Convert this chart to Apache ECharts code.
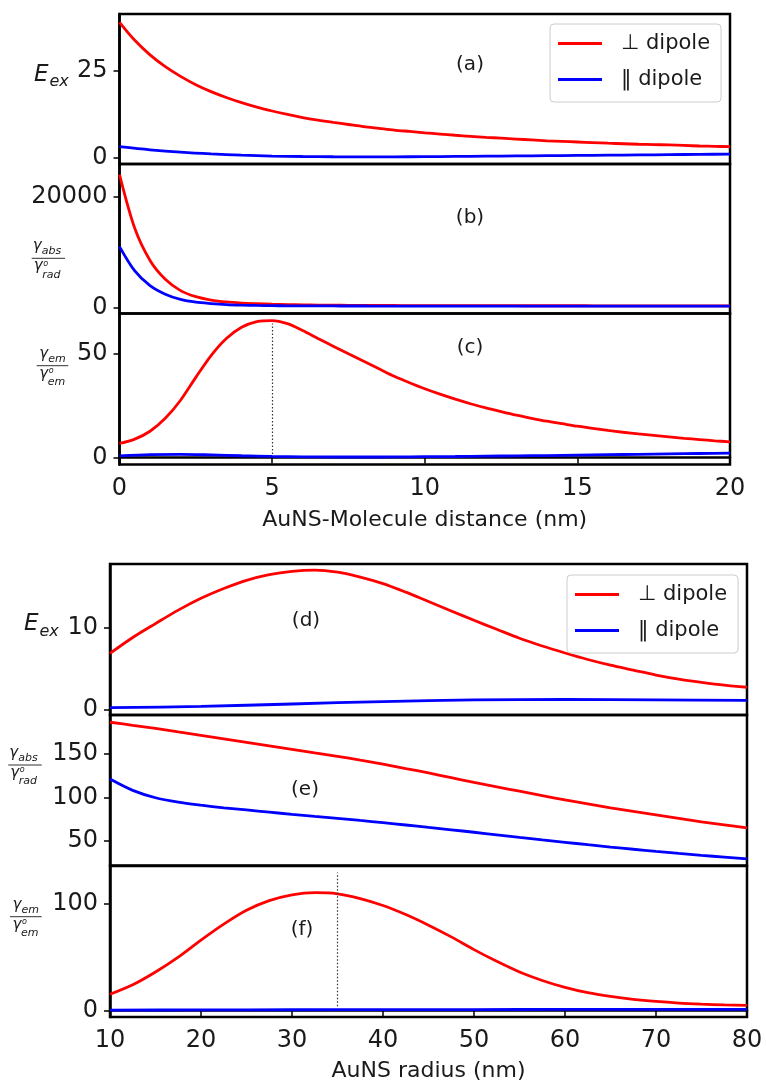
<!DOCTYPE html>
<html>
<head>
<meta charset="utf-8">
<script src="https://cdn.jsdelivr.net/npm/echarts@6/dist/echarts.min.js"></script>
<style>
  html, body { margin: 0; padding: 0; background: #fff; }
  #chart { width: 766px; height: 1081px; }
</style>
</head>
<body>
<div id="chart"></div>
<script>
// ---- Series names ----
const perpName = '\u22A5 dipole';
const paraName = '\u2016 dipole';

// ---- Top figure: quantities vs AuNS-molecule distance (nm), 0.5 nm steps ----
const dist = [0, 0.5, 1, 1.5, 2, 2.5, 3, 3.5, 4, 4.5, 5, 5.5, 6, 6.5, 7, 7.5, 8, 8.5, 9, 9.5, 10,
              10.5, 11, 11.5, 12, 12.5, 13, 13.5, 14, 14.5, 15, 15.5, 16, 16.5, 17, 17.5, 18, 18.5, 19, 19.5, 20];

// (a) excitation enhancement
const eexPerpA = [39.0, 33.8, 29.6, 26.2, 23.4, 21.0, 19.0, 17.3, 15.8, 14.5, 13.4, 12.4, 11.5, 10.75, 10.1, 9.5, 8.9, 8.4, 7.9, 7.5, 7.1,
                  6.75, 6.4, 6.1, 5.8, 5.55, 5.3, 5.05, 4.8, 4.62, 4.45, 4.27, 4.1, 3.95, 3.8, 3.7, 3.6, 3.45, 3.3, 3.2, 3.1];
const distAPara = [0, 1, 2, 3, 4, 5, 6, 7, 8, 9, 10, 11, 12, 13, 14, 15, 16, 17, 18, 19, 20];
const eexParaA = [3.1, 2.2, 1.5, 1.0, 0.65, 0.4, 0.27, 0.2, 0.18, 0.18, 0.22, 0.28, 0.35, 0.42, 0.5, 0.58, 0.65, 0.72, 0.8, 0.88, 0.95];
const ticksA = [0, 25];

// (b) absorption rate / radiative rate
const absPerpB = [24000, 14300, 8500, 5100, 3050, 1950, 1350, 1000, 800, 690, 600, 535, 480, 445, 420, 398, 380, 368, 357, 348, 340,
                  336, 332, 329, 326, 323, 320, 318, 316, 314, 312, 310, 309, 308, 307, 306, 305, 304, 303, 302, 300];
const absParaB = [11000, 6600, 3950, 2400, 1450, 950, 700, 520, 420, 365, 330, 305, 290, 280, 275, 270, 265,
                  263, 262, 261, 260, 259.5, 259, 258.5, 258, 257.5, 257, 256.5, 256, 256, 255.5, 255.5, 255, 255, 255, 255, 255, 255, 255, 255, 255];
const ticksB = [0, 20000];

// (c) emission enhancement
const emPerpC = [6.7, 8.8, 12.6, 18.8, 27.5, 38.5, 49, 57.2, 62.6, 65.3, 65.8, 64.3, 61, 57.2, 53.5, 49.8, 46.2, 42.6, 39, 35.9, 33,
                 30.4, 28, 25.8, 23.8, 22, 20.3, 18.8, 17.4, 16.2, 15, 14, 13, 12.1, 11.3, 10.6, 9.9, 9.2, 8.6, 8.0, 7.5];
const distCPara = [0, 1, 2, 3, 4, 5, 6, 7, 8, 9, 10, 11, 12, 13, 14, 15, 16, 17, 18, 19, 20];
const emParaC = [0.7, 1.3, 1.5, 1.2, 0.8, 0.5, 0.3, 0.2, 0.2, 0.25, 0.35, 0.45, 0.6, 0.75, 0.9, 1.1, 1.3, 1.5, 1.7, 1.9, 2.1];
const ticksC = [0, 50];
const peakDistance = 5;
const peakSpanC = [1.6, 64.4];

// ---- Bottom figure: quantities vs AuNS radius (nm), 2.5 nm steps ----
const radius = [10, 12.5, 15, 17.5, 20, 22.5, 25, 27.5, 30, 32.5, 35, 37.5, 40, 42.5, 45, 47.5, 50, 52.5, 55, 57.5, 60, 62.5, 65, 67.5, 70, 72.5, 75, 77.5, 80];
const radiusCoarse = [10, 20, 30, 40, 50, 60, 70, 80];

// (d) excitation enhancement
const eexPerpD = [6.85, 8.8, 10.5, 12.15, 13.6, 14.8, 15.8, 16.5, 16.9, 17.05, 16.8, 16.2, 15.4, 14.35, 13.2, 12.05, 10.9, 9.8, 8.7, 7.75, 6.9, 6.1, 5.4, 4.8, 4.2, 3.7, 3.3, 2.95, 2.7];
const eexParaD = [0.2, 0.35, 0.65, 0.95, 1.15, 1.2, 1.15, 1.1];
const ticksD = [0, 10];

// (e) absorption rate / radiative rate
const absPerpE = [186, 182.5, 179, 175, 171, 167, 163, 159, 155, 151, 147, 142.5, 138, 133, 128, 122.5, 117, 112, 107, 102, 97, 92.5, 88, 84, 80, 76, 72, 68.5, 65];
const absParaE = [121, 108, 99.5, 94.5, 91, 88, 85.5, 83, 80.5, 78.2, 76, 73.5, 71, 68.3, 65.5, 62.8, 60, 57, 54, 51.2, 48.5, 45.7, 43, 40.5, 38, 35.7, 33.5, 31.5, 29.6];
const ticksE = [50, 100, 150];

// (f) emission enhancement
const emPerpF = [15.1, 24, 36, 50, 66, 81, 94, 103, 108.5, 110.5, 109.5, 105, 98.5, 90, 80, 69, 57, 46, 36, 28, 21.5, 16.5, 13, 10.3, 8.3, 6.8, 5.8, 5.1, 4.6];
const emParaF = [0.2, 0.35, 0.5, 0.6, 0.7, 0.8, 0.85, 0.9];
const ticksF = [0, 100];
const peakRadius = 35;
const peakSpanF = [3.8, 129.6];

// ---- Styling ----
const FONT = 'DejaVu Sans';
const INK = '#1a1a1a';
const RED = '#ff0000';
const BLUE = '#0000ff';
const LINE_W = 2.8;

const zip = (xs, ys) => xs.map((x, i) => [x, ys[i]]);
const plain = v => String(v);

const grids = [
  { left: 119.5, top: 14,    width: 610.5, height: 150 },
  { left: 119.5, top: 164,   width: 610.5, height: 149.5 },
  { left: 119.5, top: 313.5, width: 610.5, height: 151 },
  { left: 110,   top: 564,   width: 637,   height: 151 },
  { left: 110,   top: 715,   width: 637,   height: 150.5 },
  { left: 110,   top: 866,   width: 637,   height: 151 }
].map(g => Object.assign({ show: true, borderColor: '#000', borderWidth: 2.5, containLabel: false, outerBoundsMode: 'none' }, g));

function xAxisFor(i, min, max, interval, showLabels, name, nameGap) {
  return {
    gridIndex: i, type: 'value', min: min, max: max, interval: interval,
    axisLine: { show: showLabels, lineStyle: { color: '#000', width: 2.5 } },
    axisTick: { show: showLabels, length: 6, lineStyle: { color: '#000', width: 1.5 } },
    axisLabel: { show: showLabels, fontSize: 24, fontFamily: FONT, color: INK, margin: 12, formatter: plain },
    splitLine: { show: false },
    name: showLabels ? name : '',
    nameLocation: 'middle', nameGap: nameGap,
    nameTextStyle: { fontSize: 22, fontFamily: FONT, color: INK }
  };
}

function yAxisFor(i, min, max, ticks) {
  return {
    gridIndex: i, type: 'value', min: min, max: max,
    axisLine: { show: true, lineStyle: { color: '#000', width: 2.5 } },
    axisTick: { show: true, length: 6, lineStyle: { color: '#000', width: 1.5 }, customValues: ticks },
    axisLabel: { fontSize: 24, fontFamily: FONT, color: INK, margin: 12, customValues: ticks, formatter: plain },
    splitLine: { show: false }
  };
}

function lineSeries(i, name, color, data, extra) {
  return Object.assign({
    type: 'line', name: name, xAxisIndex: i, yAxisIndex: i,
    data: data, symbol: 'none', showSymbol: false, smooth: 0.3,
    lineStyle: { color: color, width: LINE_W }, itemStyle: { color: color },
    animation: false, z: 3
  }, extra || {});
}

function dottedMark(x, span) {
  return {
    markLine: {
      silent: true, animation: false, symbol: ['none', 'none'],
      label: { show: false },
      lineStyle: { color: '#333', type: [1.5, 2], width: 1.2 },
      data: [[{ coord: [x, span[0]] }, { coord: [x, span[1]] }]]
    }
  };
}

// ---- Math-style axis titles drawn as text graphics ----
function txt(x, y, text, size, italic, extra) {
  const font = (italic ? 'italic ' : '') + size + 'px "' + FONT + '"';
  return {
    type: 'text', x: x, y: y, silent: true,
    style: Object.assign({
      text: text, font: font, fill: INK,
      align: 'left', verticalAlign: 'middle', textAlign: 'left', textVerticalAlign: 'middle'
    }, extra || {})
  };
}

function eLabel(x, yMid) {
  return [
    txt(x, yMid, 'E', 23, true),
    txt(x + 15.5, yMid + 7, 'ex', 16, true)
  ];
}

function fraction(x0, by, len, sub, numOff, denOff) {
  return [
    txt(x0 + numOff, by - 12, '\u03B3', 15, true),
    txt(x0 + numOff + 9, by - 7, sub[0], 11, true),
    { type: 'line', silent: true, shape: { x1: x0, y1: by, x2: x0 + len, y2: by }, style: { stroke: INK, lineWidth: 0.9 } },
    txt(x0 + denOff, by + 8, '\u03B3', 15, true),
    txt(x0 + denOff + 9.5, by + 5.4, 'o', 8, true),
    txt(x0 + denOff + 8.5, by + 16.4, sub[1], 11, true)
  ];
}

function tag(x, y, text) {
  return txt(x, y, text, 20, false, { align: 'center', textAlign: 'center' });
}

const graphics = [].concat(
  eLabel(34, 74.7),
  fraction(31.7, 258.3, 33.3, ['abs', 'rad'], 1, 2),
  fraction(36.7, 365.7, 31.6, ['em', 'em'], 2.5, 2.5),
  eLabel(24, 624.4),
  fraction(8.3, 765, 33.4, ['abs', 'rad'], 1, 2),
  fraction(10, 916.7, 31.7, ['em', 'em'], 2.5, 2.5),
  [
    tag(470, 65, '(a)'), tag(470, 218, '(b)'), tag(470, 348, '(c)'),
    tag(306, 621, '(d)'), tag(305, 790, '(e)'), tag(302, 930, '(f)')
  ]
);

function legendAt(left, top) {
  return {
    data: [
      { name: perpName, icon: 'rect', itemStyle: { color: RED } },
      { name: paraName, icon: 'rect', itemStyle: { color: BLUE } }
    ],
    orient: 'vertical', left: left, top: top,
    itemWidth: 44, itemHeight: 2.8, itemGap: 15,
    padding: [9, 11, 12, 8],
    backgroundColor: '#fff', borderColor: '#cccccc', borderWidth: 1, borderRadius: 4,
    selectedMode: false,
    textStyle: { fontSize: 21, fontFamily: FONT, color: INK, padding: [0, 0, 0, 14] }
  };
}

const option = {
  animation: false,
  backgroundColor: '#fff',
  grid: grids,
  legend: [legendAt(550, 24), legendAt(567, 575)],
  xAxis: [
    xAxisFor(0, 0, 20, 5, false, '', 0),
    xAxisFor(1, 0, 20, 5, false, '', 0),
    xAxisFor(2, 0, 20, 5, true, 'AuNS-Molecule distance (nm)', 45),
    xAxisFor(3, 10, 80, 10, false, '', 0),
    xAxisFor(4, 10, 80, 10, false, '', 0),
    xAxisFor(5, 10, 80, 10, true, 'AuNS radius (nm)', 43)
  ],
  yAxis: [
    yAxisFor(0, -1.9, 41.4, ticksA),
    yAxisFor(1, -1085, 25914, ticksB),
    yAxisFor(2, -3.4, 69.2, ticksC),
    yAxisFor(3, -0.7, 17.8, ticksD),
    yAxisFor(4, 21.9, 194.3, ticksE),
    yAxisFor(5, -6.3, 135.6, ticksF)
  ],
  series: [
    lineSeries(0, perpName, RED, zip(dist, eexPerpA)),
    lineSeries(0, paraName, BLUE, zip(distAPara, eexParaA)),
    lineSeries(1, perpName, RED, zip(dist, absPerpB)),
    lineSeries(1, paraName, BLUE, zip(dist, absParaB)),
    lineSeries(2, perpName, RED, zip(dist, emPerpC), dottedMark(peakDistance, peakSpanC)),
    lineSeries(2, paraName, BLUE, zip(distCPara, emParaC)),
    lineSeries(3, perpName, RED, zip(radius, eexPerpD)),
    lineSeries(3, paraName, BLUE, zip(radiusCoarse, eexParaD)),
    lineSeries(4, perpName, RED, zip(radius, absPerpE)),
    lineSeries(4, paraName, BLUE, zip(radius, absParaE)),
    lineSeries(5, perpName, RED, zip(radius, emPerpF), dottedMark(peakRadius, peakSpanF)),
    lineSeries(5, paraName, BLUE, zip(radiusCoarse, emParaF))
  ],
  graphic: { elements: graphics }
};

const chart = echarts.init(document.getElementById('chart'), null, { renderer: 'canvas' });
chart.setOption(option);
</script>
</body>
</html>
